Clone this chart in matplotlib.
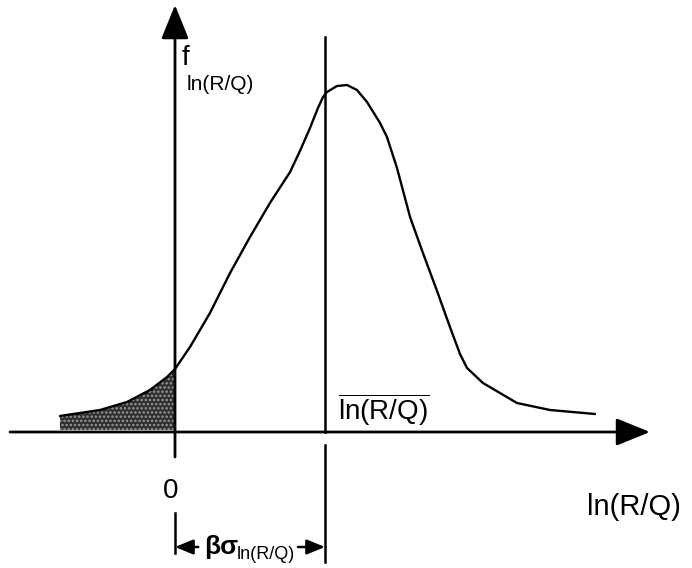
import matplotlib
matplotlib.use("Agg")
import numpy as np
import matplotlib.pyplot as plt

plt.rcParams['font.family'] = ['Liberation Sans', 'DejaVu Sans']
plt.rcParams['mathtext.fontset'] = 'custom'
plt.rcParams['mathtext.rm'] = 'Liberation Sans'
plt.rcParams['mathtext.it'] = 'Liberation Sans:italic'
plt.rcParams['hatch.linewidth'] = 1.2

# datos: x en unidades de beta*sigma (0 = origen, 1 = media)
x_curva = [-0.767, -0.50, -0.32, -0.167, -0.053, 0.0, 0.10, 0.233, 0.367, 0.50,
           0.633, 0.767, 0.833, 0.90, 0.953, 0.987, 1.013, 1.08, 1.147, 1.213,
           1.28, 1.367, 1.413, 1.48, 1.567, 1.653, 1.747, 1.833, 1.90, 1.947,
           2.053, 2.28, 2.50, 2.80]
f_curva = [0.16, 0.22, 0.30, 0.42, 0.55, 0.63, 0.85, 1.19, 1.59, 1.95,
           2.29, 2.60, 2.81, 3.04, 3.24, 3.35, 3.40, 3.46, 3.47, 3.42,
           3.30, 3.09, 2.95, 2.64, 2.15, 1.79, 1.41, 1.05, 0.78, 0.64,
           0.49, 0.29, 0.22, 0.18]
x_media = 1.0
x_cero = 0.0

x_curva = np.array(x_curva)
f_curva = np.array(f_curva)

fig = plt.figure(figsize=(6.92, 5.68), dpi=100)
ax = fig.add_axes([0, 0, 1, 1])
ax.set_xlim(-1.1667, 3.4467)
ax.set_ylim(-1.36, 4.32)
ax.axis('off')

# area sombreada (cola izquierda)
m = x_curva <= x_cero
ax.fill_between(x_curva[m], 0.02, f_curva[m], facecolor='#2e2e2e',
                edgecolor='#9a9a9a', hatch='....', linewidth=0, zorder=1)

# curva de densidad
ax.plot(x_curva, f_curva, color='black', lw=1.7, zorder=3,
        solid_joinstyle='round', solid_capstyle='round')

# ejes con flechas
flecha = dict(arrowstyle='-|>,head_length=2.1,head_width=0.85',
              color='black', lw=2.0, shrinkA=0, shrinkB=0, mutation_scale=10)
ax.annotate('', xy=(3.167, 0), xytext=(-1.10, 0), arrowprops=flecha)
ax.annotate('', xy=(x_cero, 4.27), xytext=(x_cero, -0.25), arrowprops=flecha)

# linea de la media
ax.plot([x_media, x_media], [3.95, 0], color='black', lw=1.8)
ax.plot([x_media, x_media], [-0.13, -1.30], color='black', lw=1.8)
ax.plot([x_cero, x_cero], [-0.81, -1.21], color='black', lw=1.8)

# cota beta*sigma
flecha2 = dict(arrowstyle='-|>,head_length=1.1,head_width=0.45',
               color='black', lw=1.8, shrinkA=0, shrinkB=0, mutation_scale=10)
ax.annotate('', xy=(x_cero, -1.15), xytext=(0.155, -1.15), arrowprops=flecha2)
ax.annotate('', xy=(x_media, -1.15), xytext=(0.82, -1.15), arrowprops=flecha2)
ax.text(0.195, -1.22, 'βσ', fontsize=19, fontweight='bold', ha='left',
        va='baseline')
ax.text(0.41, -1.27, 'ln(R/Q)', fontsize=13, ha='left', va='baseline')

# textos
ax.text(0.045, 3.67, 'f', fontsize=20, ha='left', va='baseline')
ax.text(0.075, 3.42, 'ln(R/Q)', fontsize=15, ha='left', va='baseline')
ax.text(1.087, 0.12, r'$\overline{\mathrm{ln(R/Q)}}$', fontsize=20,
        ha='left', va='baseline')
ax.text(2.75, -0.83, 'ln(R/Q)', fontsize=21, ha='left', va='baseline')
ax.text(-0.027, -0.59, '0', fontsize=20, ha='center', va='center')

fig.savefig('out.png', dpi=100)
